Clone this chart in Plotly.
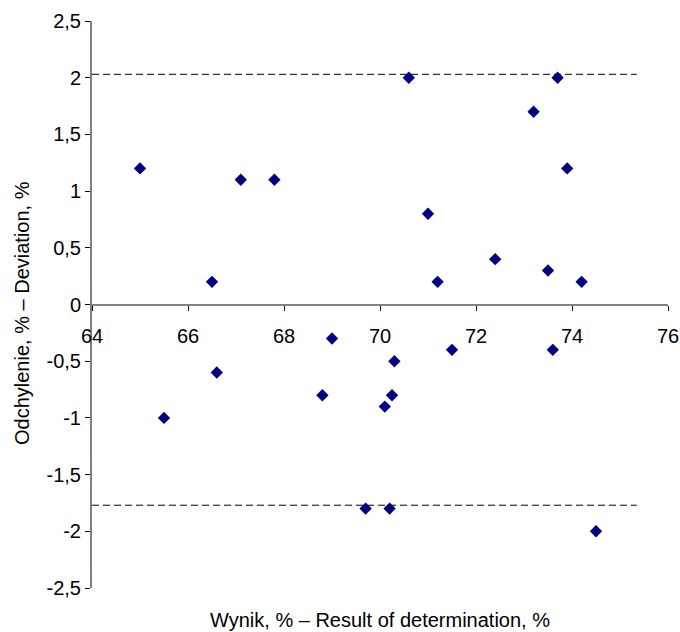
import plotly.graph_objects as go

# Data
result_x = [65.0, 66.5, 67.1, 67.8, 70.6, 73.7, 73.2, 73.9, 71.0, 72.4, 71.2, 73.5, 74.2,
            69.0, 66.6, 65.5, 68.8, 71.5, 73.6, 70.3, 70.25, 70.1, 69.7, 70.2, 74.5]
deviation_y = [1.2, 0.2, 1.1, 1.1, 2.0, 2.0, 1.7, 1.2, 0.8, 0.4, 0.2, 0.3, 0.2,
               -0.3, -0.6, -1.0, -0.8, -0.4, -0.4, -0.5, -0.8, -0.9, -1.8, -1.8, -2.0]

upper_limit = 2.03
lower_limit = -1.77
limit_x = [64.0, 75.35]

x_ticks = [64, 66, 68, 70, 72, 74, 76]
y_ticks = [-2.5, -2.0, -1.5, -1.0, -0.5, 0.0, 0.5, 1.0, 1.5, 2.0, 2.5]
y_tick_text = ["-2,5", "-2", "-1,5", "-1", "-0,5", "0", "0,5", "1", "1,5", "2", "2,5"]

FONT = "Liberation Sans, Arial, sans-serif"
FS = 20

L, R, T, B = 92, 12, 21, 44
W, H = 680, 632
plot_w = W - L - R
plot_h = H - T - B

fig = go.Figure()
for lvl in (upper_limit, lower_limit):
    fig.add_trace(go.Scatter(
        x=limit_x, y=[lvl, lvl], mode="lines",
        line=dict(color="black", width=1, dash="7px,4px"),
        hoverinfo="skip", showlegend=False))

fig.add_trace(go.Scatter(
    x=result_x, y=deviation_y, mode="markers",
    marker=dict(symbol="diamond", size=9.5, color="#000080", line=dict(width=0)),
    showlegend=False, cliponaxis=False))

fig.update_layout(
    width=W, height=H,
    margin=dict(l=L, r=R, t=T, b=B),
    paper_bgcolor="white", plot_bgcolor="white",
    font=dict(family=FONT, size=FS, color="black"),
    xaxis=dict(
        range=[64, 76], anchor="free", position=0.5, automargin=False,
        showline=True, linecolor="#808080", linewidth=2,
        ticks="outside", ticklen=5, tickcolor="black", tickwidth=1,
        tickvals=x_ticks, ticktext=[str(v) for v in x_ticks],
        ticklabelstandoff=8,
        showgrid=False, zeroline=False,
    ),
    yaxis=dict(
        range=[-2.5, 2.5], automargin=False,
        showline=True, linecolor="#808080", linewidth=2,
        ticks="outside", ticklen=5, tickcolor="black", tickwidth=1,
        tickvals=y_ticks, ticktext=y_tick_text,
        showgrid=False, zeroline=False,
    ),
    annotations=[
        dict(text="Wynik, % – Result of determination, %",
             x=0.5, y=(H - B - 620) / plot_h,
             xref="paper", yref="paper", showarrow=False,
             xanchor="center", yanchor="middle", font=dict(size=FS)),
        dict(text="Odchylenie, % – Deviation, %",
             x=(22 - L) / plot_w, y=(H - B - 313) / plot_h,
             xref="paper", yref="paper", showarrow=False, textangle=-90,
             xanchor="center", yanchor="middle", font=dict(size=FS)),
    ],
)

fig.write_html("out.html",
               config={"displayModeBar": False},
               post_script="document.body.style.margin='0';document.body.style.overflow='hidden';")
